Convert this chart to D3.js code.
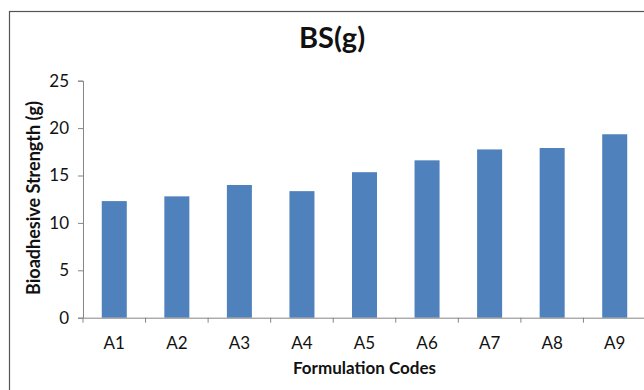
<!DOCTYPE html>
<html>
<head>
<meta charset="utf-8">
<script src="https://cdn.jsdelivr.net/npm/d3@7"></script>
<style>
  html, body { margin: 0; padding: 0; background: #fff; }
  svg { display: block; }
  text { font-family: Lato, "Open Sans", sans-serif; fill: #111; }
</style>
</head>
<body>
<svg id="chart" width="644" height="390"></svg>
<script>
const categories = ["A1", "A2", "A3", "A4", "A5", "A6", "A7", "A8", "A9"];
const bsValues = [12.3, 12.8, 14.0, 13.35, 15.35, 16.6, 17.75, 17.9, 19.35];
const yTicks = [0, 5, 10, 15, 20, 25];
const titleText = "BS(g)";
const xTitle = "Formulation Codes";
const yTitle = "Bioadhesive Strength (g)";

const svg = d3.select("#chart");
const plot = { left: 83, right: 646, top: 80.7, bottom: 317.7 };

// chart border
svg.append("rect")
  .attr("x", 9.5).attr("y", 11.5)
  .attr("width", 700).attr("height", 420)
  .attr("fill", "none").attr("stroke", "#555").attr("stroke-width", 1.2);

const x = d3.scaleBand().domain(categories).range([plot.left, plot.right]).paddingInner(0.6).paddingOuter(0.3);
const xb = d3.scaleBand().domain(categories).range([plot.left, plot.right]);
const y = d3.scaleLinear().domain([0, 25]).range([plot.bottom, plot.top]);

// bars
svg.append("g").selectAll("rect").data(categories).join("rect")
  .attr("x", d => x(d))
  .attr("width", x.bandwidth())
  .attr("y", (d, i) => y(bsValues[i]))
  .attr("height", (d, i) => y(0) - y(bsValues[i]))
  .attr("fill", "#4F81BD");

// y axis
const yAxis = svg.append("g")
  .attr("transform", `translate(${plot.left},0)`)
  .call(d3.axisLeft(y).tickValues(yTicks).tickSize(5).tickPadding(9));
yAxis.select(".domain").attr("stroke", "#868686");
yAxis.selectAll(".tick line").attr("stroke", "#868686");
yAxis.selectAll("text").style("font-size", "17px").attr("fill", "#1a1a1a");

// x axis
const xAxis = svg.append("g")
  .attr("transform", `translate(0,${plot.bottom})`)
  .call(d3.axisBottom(xb).tickSize(0).tickPadding(19));
xAxis.select(".domain").attr("stroke", "#868686");
xAxis.selectAll("text").style("font-size", "17px").attr("fill", "#1a1a1a");
// boundary ticks
const bounds = categories.map(c => xb(c)).concat([plot.right]);
svg.append("g").selectAll("line").data(bounds).join("line")
  .attr("x1", d => d).attr("x2", d => d)
  .attr("y1", plot.bottom).attr("y2", plot.bottom + 5)
  .attr("stroke", "#868686");

// title
svg.append("text")
  .attr("x", 332).attr("y", 47.5)
  .attr("text-anchor", "middle")
  .style("font-size", "29px").style("font-weight", "bold")
  .text(titleText);

// x title
svg.append("text")
  .attr("x", (plot.left + plot.right) / 2).attr("y", 373.5)
  .attr("text-anchor", "middle")
  .style("font-size", "17px").style("font-weight", "bold")
  .text(xTitle);

// y title
svg.append("text")
  .attr("transform", "translate(40,198) rotate(-90)")
  .attr("text-anchor", "middle")
  .style("font-size", "18px").style("font-weight", "bold")
  .text(yTitle);
</script>
</body>
</html>
